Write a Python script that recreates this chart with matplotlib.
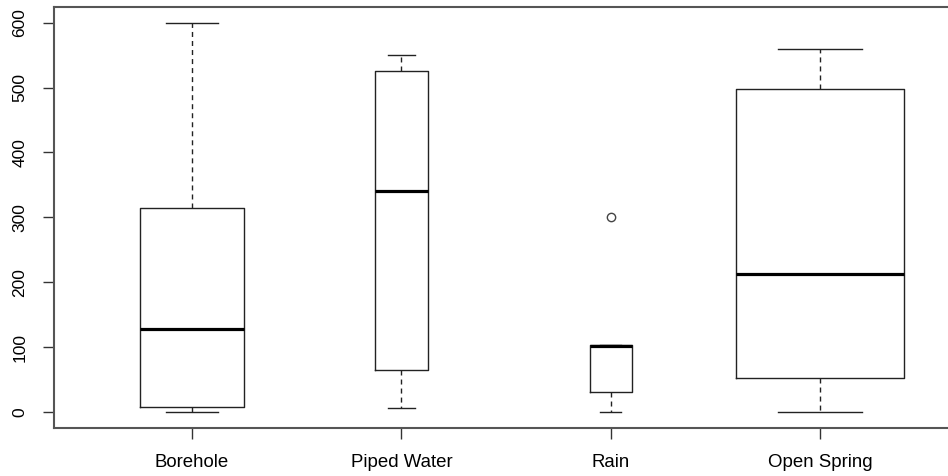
import matplotlib
matplotlib.use("Agg")
import matplotlib.pyplot as plt

# Five-number summaries per water source
sources = ["Borehole", "Piped Water", "Rain", "Open Spring"]
whisker_low = [0, 6, 0, 0]
q1 = [7, 64, 31, 52]
median = [128, 341, 102, 213]
q3 = [315, 526, 103, 498]
whisker_high = [600, 550, 103, 559]
outliers = [[], [], [300], []]
# box widths grow with group size (varwidth)
box_widths = [0.50, 0.25, 0.20, 0.80]
y_ticks = [0, 100, 200, 300, 400, 500, 600]

plt.rcParams["font.family"] = ["Liberation Sans", "DejaVu Sans"]

fig = plt.figure(figsize=(9.48, 4.76), dpi=100)
ax = fig.add_axes([0.0568, 0.1017, 0.9542, 0.8834])

stats = []
for i, name in enumerate(sources):
    stats.append(dict(label=name, whislo=whisker_low[i], q1=q1[i], med=median[i],
                      q3=q3[i], whishi=whisker_high[i], fliers=outliers[i]))

positions = list(range(1, len(sources) + 1))
ax.bxp(stats, positions=positions, widths=box_widths, capwidths=[w / 2 for w in box_widths],
       showfliers=True,
       boxprops=dict(color="#222222", linewidth=1.0),
       medianprops=dict(color="black", linewidth=2.3, solid_capstyle="butt"),
       whiskerprops=dict(color="#222222", linewidth=1.0, linestyle=(0, (3.6, 2.9))),
       capprops=dict(color="#222222", linewidth=1.0),
       flierprops=dict(marker="o", markersize=6, markerfacecolor="none",
                       markeredgecolor="#444444", markeredgewidth=1.0))

ax.set_xlim(0.34, 4.66)
ax.set_ylim(-24, 624)
ax.set_xticks(positions)
ax.set_xticklabels(sources, fontsize=13.4)
ax.set_yticks(y_ticks)
ax.set_yticklabels([str(v) for v in y_ticks], fontsize=12.5, rotation=90, va="center")
ax.tick_params(axis="both", length=8, width=1.0, color="#333333", pad=11)

for side in ["left", "bottom", "top", "right"]:
    ax.spines[side].set_color("#555555")
    ax.spines[side].set_linewidth(1.5)

fig.savefig("out.png", dpi=100)
